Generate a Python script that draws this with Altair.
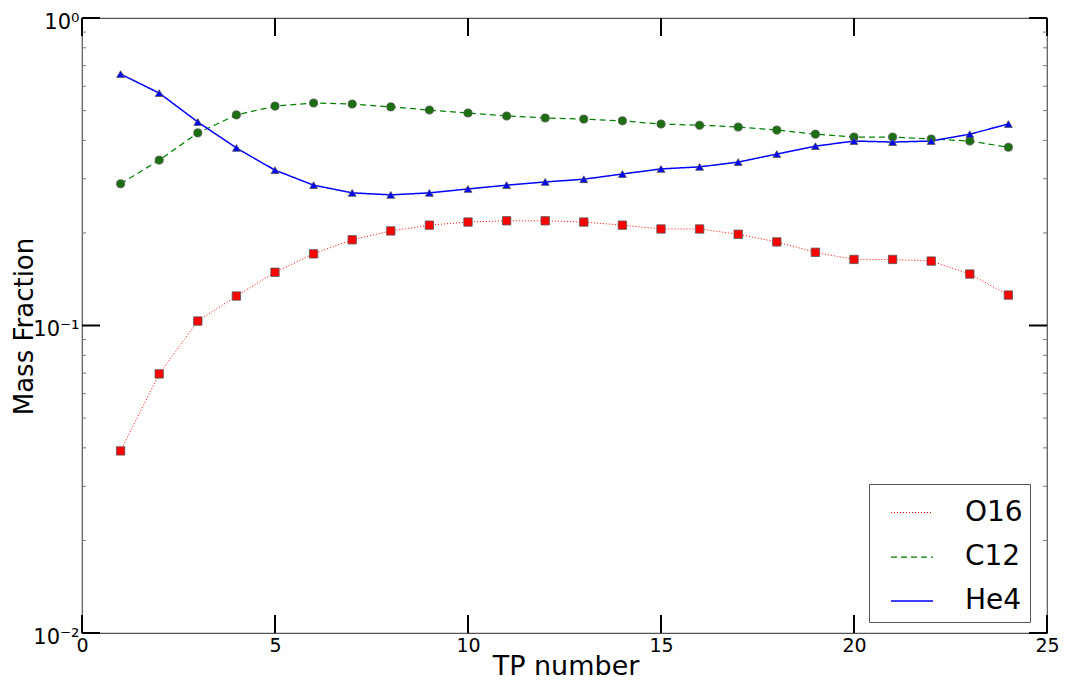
import altair as alt
import pandas as pd

tp = list(range(1, 25))
o16 = [0.0391, 0.0696, 0.1034, 0.1247, 0.149, 0.171, 0.190, 0.203, 0.212, 0.217, 0.219, 0.219,
       0.217, 0.212, 0.206, 0.206, 0.198, 0.187, 0.173, 0.164, 0.164, 0.162, 0.147, 0.1256]
c12 = [0.289, 0.345, 0.423, 0.484, 0.517, 0.529, 0.525, 0.514, 0.502, 0.491, 0.480, 0.473,
       0.469, 0.463, 0.452, 0.448, 0.442, 0.432, 0.419, 0.410, 0.410, 0.404, 0.398, 0.380]
he4 = [0.657, 0.570, 0.459, 0.378, 0.320, 0.286, 0.270, 0.266, 0.270, 0.278, 0.286, 0.293,
       0.299, 0.311, 0.323, 0.328, 0.340, 0.361, 0.383, 0.398, 0.395, 0.398, 0.419, 0.452]
series_names = ["O16", "C12", "He4"]
x_ticks = [0, 5, 10, 15, 20, 25]
y_major = [0.01, 0.1, 1.0]
y_minor = [0.02, 0.03, 0.04, 0.05, 0.06, 0.07, 0.08, 0.09,
           0.2, 0.3, 0.4, 0.5, 0.6, 0.7, 0.8, 0.9]

rows = []
for name, vals in zip(series_names, [o16, c12, he4]):
    for t, v in zip(tp, vals):
        rows.append({"tp": t, "frac": v, "series": name})
df = pd.DataFrame(rows)

W, H = 965, 615
FONT = "DejaVu Sans"

xscale = alt.Scale(domain=[0, 25], nice=False, zero=False)
yscale = alt.Scale(type="log", domain=[0.01, 1], nice=False)

line_colors = ["#ff0000", "#008000", "#0000ff"]
marker_fills = ["#ff0000", "#1a700f", "#0000ff"]

xaxis = alt.Axis(values=x_ticks, ticks=False, domain=False, grid=False, labelFontSize=19,
                 labelFont=FONT, labelColor="black", labelPadding=3, title="TP number",
                 titleFont=FONT, titleFontSize=27, titleFontWeight="normal", titleColor="black",
                 titleX=W / 2 + 1, titleY=33, titleBaseline="middle", titleAlign="center",
                 labelFlush=False)
yaxis = alt.Axis(values=y_major, ticks=False, domain=False, grid=False, labelFontSize=21,
                 labelFont=FONT, labelColor="black", labelPadding=3, labelOffset=4,
                 labelExpr="datum.value >= 0.5 ? '10⁰' : (datum.value >= 0.05 ? '10⁻¹' : '10⁻²')",
                 title="Mass Fraction", titleFont=FONT, titleFontSize=26, titleFontWeight="normal",
                 titleColor="black", titleX=-58, titleY=308, titleAngle=-90,
                 titleBaseline="middle", titleAlign="center", labelFlush=False)

base = alt.Chart(df)

lines = base.mark_line(clip=True).encode(
    x=alt.X("tp:Q", scale=xscale, axis=xaxis),
    y=alt.Y("frac:Q", scale=yscale, axis=yaxis),
    color=alt.Color("series:N", scale=alt.Scale(domain=series_names, range=line_colors),
                    sort=series_names,
                    legend=alt.Legend(title=None, orient="none", legendX=787, legendY=466,
                                      labelFont=FONT, labelFontSize=28, labelColor="black",
                                      symbolType="stroke", symbolSize=1764, symbolStrokeWidth=1.5,
                                      symbolOffset=14, labelOffset=31, rowPadding=8, padding=7,
                                      strokeColor="#555555", fillColor="white",
                                      cornerRadius=0)),
    strokeDash=alt.StrokeDash("series:N", sort=series_names,
                              scale=alt.Scale(domain=series_names, range=[[1, 2], [6, 4], [1, 0]])),
    strokeWidth=alt.StrokeWidth("series:N", scale=alt.Scale(domain=series_names, range=[1, 1.5, 1.5]),
                                legend=None),
)

points = base.mark_point(filled=True, stroke="#555555", strokeWidth=0.8, opacity=1).encode(
    x=alt.X("tp:Q", scale=xscale),
    y=alt.Y("frac:Q", scale=yscale),
    fill=alt.Fill("series:N", scale=alt.Scale(domain=series_names, range=marker_fills), legend=None),
    shape=alt.Shape("series:N", scale=alt.Scale(domain=series_names,
                                                range=["square", "circle", "triangle-up"]), legend=None),
    size=alt.Size("series:N", scale=alt.Scale(domain=series_names, range=[70, 62, 75]), legend=None),
)

xt = pd.DataFrame({"x": x_ticks})
ymaj = pd.DataFrame({"y": y_major})
ymin = pd.DataFrame({"y": y_minor})

xt_bottom = alt.Chart(xt).mark_rule(color="black", strokeWidth=2).encode(
    x=alt.X("x:Q", scale=xscale), y=alt.value(H), y2=alt.value(H - 18))
xt_top = alt.Chart(xt).mark_rule(color="black", strokeWidth=2).encode(
    x=alt.X("x:Q", scale=xscale), y=alt.value(0), y2=alt.value(18))
ymaj_left = alt.Chart(ymaj).mark_rule(color="black", strokeWidth=2).encode(
    y=alt.Y("y:Q", scale=yscale), x=alt.value(0), x2=alt.value(18))
ymaj_right = alt.Chart(ymaj).mark_rule(color="black", strokeWidth=2).encode(
    y=alt.Y("y:Q", scale=yscale), x=alt.value(W), x2=alt.value(W - 18))
ymin_left = alt.Chart(ymin).mark_rule(color="#777777", strokeWidth=1).encode(
    y=alt.Y("y:Q", scale=yscale), x=alt.value(0), x2=alt.value(4))
ymin_right = alt.Chart(ymin).mark_rule(color="#777777", strokeWidth=1).encode(
    y=alt.Y("y:Q", scale=yscale), x=alt.value(W), x2=alt.value(W - 4))

chart = alt.layer(
    lines, points, xt_bottom, xt_top, ymaj_left, ymaj_right, ymin_left, ymin_right
).resolve_scale(
    fill="independent", shape="independent", size="independent"
).properties(
    width=W, height=H,
    autosize=alt.AutoSizeParams(type="none"),
    padding={"left": 74, "top": 10, "right": 13, "bottom": 47},
    background="white",
).configure_view(stroke="#555555", strokeWidth=1.2)

chart.save("out.html", embed_options={"renderer": "svg", "actions": False})
